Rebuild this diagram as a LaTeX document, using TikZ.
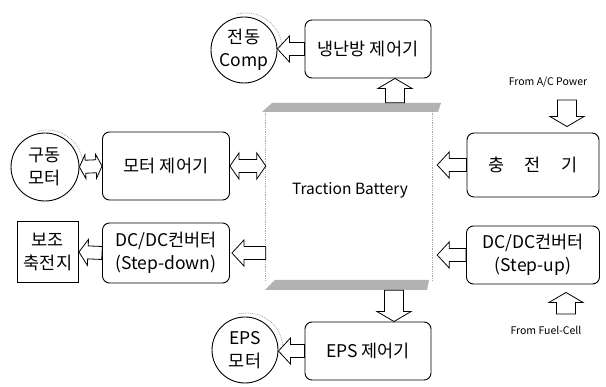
\documentclass[tikz,border=0pt]{standalone}
\usepackage{fontspec}
\setmainfont{Noto Sans CJK KR}
\usetikzlibrary{calc,positioning}

\newcommand{\boxfont}{\fontsize{17.5}{23}\selectfont}
\newcommand{\batfont}{\fontsize{15.5}{18}\selectfont}
\newcommand{\tinyfont}{\fontsize{10.5}{12}\selectfont}

\tikzset{
  ctrl/.style={draw,line width=0.9pt,rounded corners=7pt,minimum width=126pt,
    minimum height=58pt,align=center,font=\boxfont,inner sep=0pt},
  unit/.style={draw,circle,line width=0.9pt,minimum size=66pt,align=center,
    font=\boxfont,inner sep=0pt},
  fat shaft/.store in=\fshaft, fat head/.store in=\fhead, fat len/.store in=\flen,
  fat shaft=6.5pt, fat head=13pt, fat len=12pt,
  % hollow block arrow, tail at start, tip at target
  fat/.style={draw,line width=0.8pt,to path={
    let \p1=(\tikztostart), \p2=(\tikztotarget), \p3=($(\p2)!\flen!(\p1)$) in
    ($(\p1)!\fshaft!90:(\p2)$) -- ($(\p3)!\fshaft!90:(\p2)$)
    -- ($(\p3)!\fhead!90:(\p2)$) -- (\p2) -- ($(\p3)!\fhead!-90:(\p2)$)
    -- ($(\p3)!\fshaft!-90:(\p2)$) -- ($(\p1)!\fshaft!-90:(\p2)$) -- cycle}},
  % hollow block arrow with a head at both ends
  fatboth/.style={draw,line width=0.8pt,to path={
    let \p1=(\tikztostart), \p2=(\tikztotarget),
        \p3=($(\p1)!\flen!(\p2)$), \p4=($(\p2)!\flen!(\p1)$) in
    (\p1) -- ($(\p3)!\fhead!90:(\p2)$) -- ($(\p3)!\fshaft!90:(\p2)$)
    -- ($(\p4)!\fshaft!90:(\p2)$) -- ($(\p4)!\fhead!90:(\p2)$) -- (\p2)
    -- ($(\p4)!\fhead!-90:(\p2)$) -- ($(\p4)!\fshaft!-90:(\p2)$)
    -- ($(\p3)!\fshaft!-90:(\p2)$) -- ($(\p3)!\fhead!-90:(\p2)$) -- cycle}},
  upright/.style={fat shaft=9.5pt,fat head=17pt,fat len=10pt},
}

\begin{document}
\begin{tikzpicture}[x=1pt,y=-1pt]
  \useasboundingbox (0,0) rectangle (606,387);

  % battery in the middle
  \node[minimum width=166pt,minimum height=170pt,inner sep=0pt] (bat) at (349,196) {};
  \node[font=\batfont] (batlbl) at (350,190) {Traction Battery};
  \fill[gray!60] (262,112) -- (272,103) -- (441,103) -- (438,112) -- cycle;
  \fill[gray!60] (265,290) -- (275,280) -- (429,280) -- (427,290) -- cycle;
  \draw[gray!70,densely dotted,line width=0.8pt] (bat.north west) -- (bat.south west);
  \draw[gray!70,densely dotted,line width=0.8pt] (bat.north east) -- (bat.south east);

  % blocks
  \node[ctrl] (ac) at (368,49) {냉난방 제어기};
  \node[unit] (comp) at (244,50) {전동\\Comp};
  \node[ctrl,minimum width=127pt,minimum height=68pt] (mc) at (166,166) {모터 제어기};
  \node[unit,minimum size=68pt] (drv) at (45,167) {구동\\모터};
  \node[ctrl,minimum width=127pt,minimum height=60pt] (down) at (166,253)
       {DC/DC컨버터\\(Step-down)};
  \node[draw,line width=0.9pt,minimum size=61pt,inner sep=0pt,align=center,
        font=\boxfont] (aux) at (48,252) {보조\\축전지};
  \node[ctrl,minimum width=132pt,minimum height=64pt] (chg) at (533,165)
       {충\hspace{20pt}전\hspace{20pt}기};
  \node[ctrl,minimum width=133pt] (up) at (533,255) {DC/DC컨버터\\(Step-up)};
  \node[ctrl] (eps) at (368,351) {EPS 제어기};
  \node[unit] (epsm) at (245,350) {EPS\\모터};
  \node[font=\tinyfont] (acp) at (548,82) {From A/C Power};
  \node[font=\tinyfont] (fcl) at (546,330) {From Fuel-Cell};

  \foreach \c in {comp,drv,epsm}
    \draw[gray!70,densely dotted,line width=0.8pt]
      ([shift={(2pt,1pt)}]\c.center) ++(105:36pt) arc[start angle=105,end angle=5,radius=36pt];

  % connectors
  \coordinate (upA) at ([xshift=46pt,yshift=8pt]bat.north);
  \coordinate (upB) at (upA |- ac.south);
  \draw[fat,upright] (upA) to (upB);
  \draw[fat] (ac.west) to (ac.west -| comp.east);
  \draw[fatboth,fat len=6pt,fat head=12pt] (drv.east) to (mc.west);
  \draw[fatboth,fat len=9pt] (mc.east) to (bat.west |- mc.east);
  \draw[fat] (bat.west |- down.east) to ([xshift=2pt]down.east);
  \draw[fat,fat len=9pt] (down.west) to (aux.east);
  \coordinate (chgIn) at ([xshift=5pt]bat.east |- chg.west);
  \draw[fat] (chg.west) to (chgIn);
  \coordinate (upIn) at ([xshift=5pt]bat.east |- up.west);
  \draw[fat] (up.west) to (upIn);
  \coordinate (acA) at (567,100);
  \draw[fat,upright] (acA) to ([yshift=6pt]acA |- chg.north);
  \coordinate (fcA) at (566,314);
  \draw[fat,upright] (fcA) to ([yshift=-8pt]fcA |- up.south);
  \coordinate (dnA) at ([xshift=45pt,yshift=-9pt]bat.south);
  \coordinate (dnB) at (dnA |- eps.north);
  \draw[fat,upright] (dnA) to (dnB);
  \draw[fat] (eps.west) to (eps.west -| epsm.east);
\end{tikzpicture}
\end{document}
